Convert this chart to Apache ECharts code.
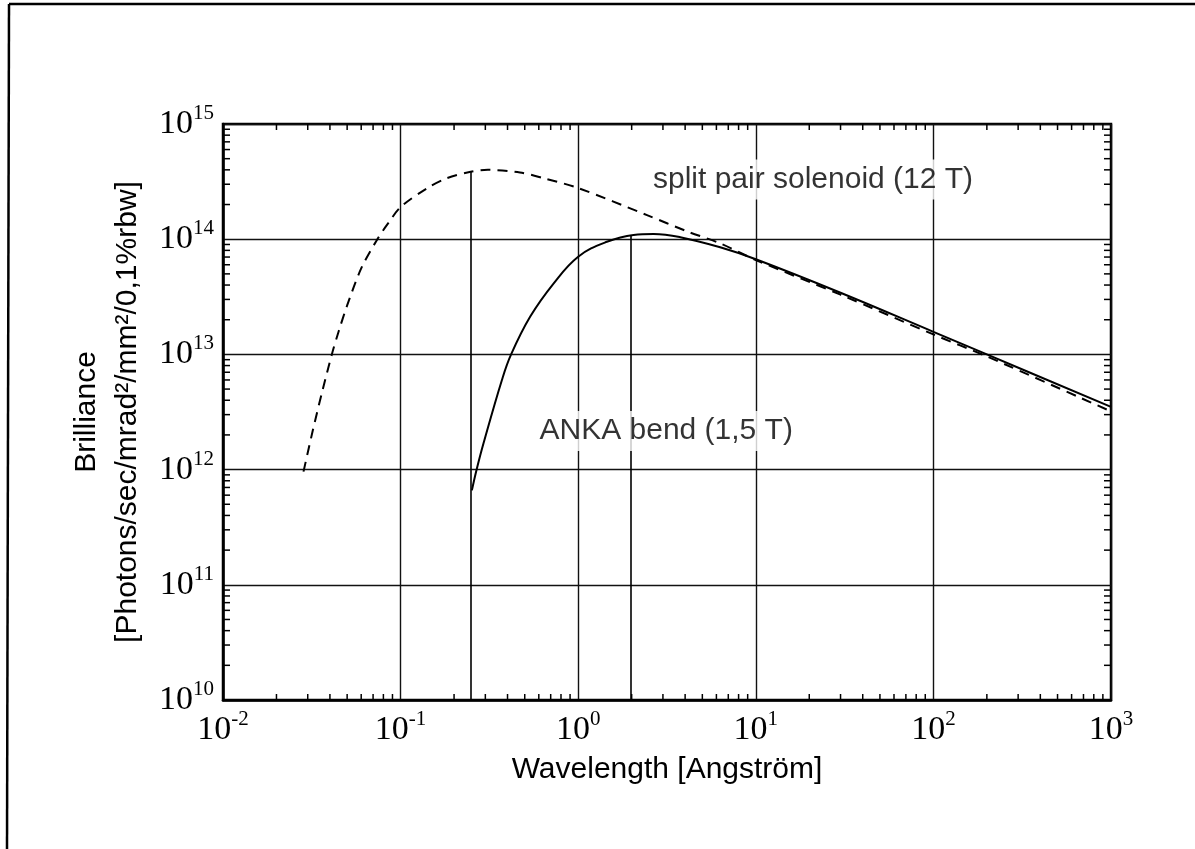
<!DOCTYPE html>
<html>
<head>
<meta charset="utf-8">
<script src="https://cdn.jsdelivr.net/npm/echarts@6/dist/echarts.min.js"></script>
<style>
html,body{margin:0;padding:0;background:#fff}
#chart{width:1195px;height:849px}
</style>
</head>
<body>
<div id="chart"></div>
<script>
// wavelength [Angstrom] and brilliance
const solenoidX = [0.0284, 0.032, 0.036, 0.041, 0.045, 0.05, 0.06, 0.074, 0.085, 0.1, 0.141, 0.182, 0.248, 0.31, 0.47, 0.64, 1.0, 2.44, 4.1, 6.3, 10, 30, 100, 200, 1000]
const solenoidY = [9.6e11, 2.17e12, 4.6e12, 1.0e13, 1.62e13, 2.66e13, 5.58e13, 1.0e14, 1.37e14, 1.9e14, 2.77e14, 3.38e14, 3.85e14, 4.0e14, 3.8e14, 3.38e14, 2.78e14, 1.62e14, 1.17e14, 9.2e13, 6.6e13, 3.3e13, 1.49e13, 9.6e12, 3.2e12]
const bendX = [0.252, 0.268, 0.293, 0.372, 0.419, 0.537, 0.728, 1.0, 1.45, 2.05, 2.66, 3.76, 6.3, 10, 30, 100, 200, 1000]
const bendY = [6.6e11, 1.0e12, 1.69e12, 6.0e12, 1.0e13, 2.13e13, 4.14e13, 7.05e13, 9.5e13, 1.09e14, 1.11e14, 1.04e14, 8.5e13, 6.7e13, 3.43e13, 1.57e13, 1.0e13, 3.5e12]
// critical wavelengths (vertical lines up to the curves)
const criticalX = [0.248, 1.98]
const criticalY = [3.85e14, 1.07e14]
// curve labels
const noteText = ['split pair solenoid (12 T)', 'ANKA bend (1,5 T)']
const noteX = [21, 3.13]
const noteY = [3.3e14, 2.16e12]
// decade tick labels (exponents)
const xExp = [-2, -1, 0, 1, 2, 3]
const yExp = [10, 11, 12, 13, 14, 15]
const minorMult = [2, 3, 4, 5, 6, 7, 8, 9]

const X0 = Math.pow(10, xExp[0]), X1 = Math.pow(10, xExp[xExp.length - 1])
const Y0 = Math.pow(10, yExp[0]), Y1 = Math.pow(10, yExp[yExp.length - 1])

const xMinor = []
xExp.slice(0, -1).forEach(e => minorMult.forEach(m => xMinor.push([m * Math.pow(10, e), Y0])))
const yMinor = []
yExp.slice(0, -1).forEach(e => minorMult.forEach(m => yMinor.push([X0, m * Math.pow(10, e)])))

const serif = 'Liberation Serif'
const sans = 'Liberation Sans'

const rich = {
  b: {fontFamily: serif, fontSize: 34, color: '#000', lineHeight: 42, verticalAlign: 'middle'},
  s: {fontFamily: serif, fontSize: 21, color: '#000', lineHeight: 42, verticalAlign: 'top'}
}
function powLabel(v) {
  const e = Math.round(Math.log10(v))
  return '{b|10}{s|' + e + '}'
}

const tickStyle = {stroke: '#000', lineWidth: 1.5}

const options = {
  backgroundColor: '#fff',
  animation: false,
  grid: {left: 223, right: 84, top: 124, bottom: 149, show: true, borderColor: '#000', borderWidth: 2.5},
  xAxis: {
    type: 'log', logBase: 10, min: X0, max: X1,
    name: 'Wavelength [Angström]', nameLocation: 'middle', nameGap: 55,
    nameTextStyle: {fontFamily: sans, fontSize: 30, color: '#000'},
    axisLine: {lineStyle: {color: '#000', width: 2.5}},
    axisTick: {show: false},
    axisLabel: {formatter: powLabel, rich: rich, margin: 9},
    splitLine: {show: true, lineStyle: {color: '#111', width: 1.4}}
  },
  yAxis: {
    type: 'log', logBase: 10, min: Y0, max: Y1,
    name: 'Brilliance\n[Photons/sec/mrad²/mm²/0,1%rbw]', nameLocation: 'middle', nameGap: 73,
    nameTextStyle: {fontFamily: sans, fontSize: 30, color: '#000', lineHeight: 41},
    axisLine: {lineStyle: {color: '#000', width: 2.5}},
    axisTick: {show: false},
    axisLabel: {formatter: powLabel, rich: rich, margin: 9},
    splitLine: {show: true, lineStyle: {color: '#111', width: 1.4}}
  },
  graphic: [
    {type: 'line', shape: {x1: 9, y1: 4, x2: 7, y2: 849}, style: {stroke: '#000', lineWidth: 2.5}},
    {type: 'line', shape: {x1: 9, y1: 4, x2: 1195, y2: 4}, style: {stroke: '#000', lineWidth: 2.5}}
  ],
  series: [
    {
      name: '12 T', type: 'line', smooth: 0.3, symbol: 'none', z: 3,
      lineStyle: {color: '#000', width: 2, type: [10, 7]},
      data: solenoidX.map((x, i) => [x, solenoidY[i]])
    },
    {
      name: '1.5 T', type: 'line', smooth: 0.4, symbol: 'none', z: 3,
      lineStyle: {color: '#000', width: 2},
      data: bendX.map((x, i) => [x, bendY[i]])
    },
    {
      name: 'critical', type: 'line', data: [], z: 2,
      markLine: {
        silent: true, symbol: 'none', label: {show: false},
        lineStyle: {color: '#000', width: 1.6, type: 'solid'},
        data: criticalX.map((x, i) => [{coord: [x, Y0]}, {coord: [x, criticalY[i]]}])
      }
    },
    {
      name: 'xminor', type: 'custom', clip: false, silent: true, z: 4,
      renderItem: (params, api) => {
        const b = api.coord([api.value(0), Y0])
        const t = api.coord([api.value(0), Y1])
        return {type: 'group', children: [
          {type: 'line', shape: {x1: b[0], y1: b[1], x2: b[0], y2: b[1] - 6}, style: tickStyle},
          {type: 'line', shape: {x1: t[0], y1: t[1], x2: t[0], y2: t[1] + 6}, style: tickStyle}
        ]}
      },
      data: xMinor
    },
    {
      name: 'yminor', type: 'custom', clip: false, silent: true, z: 4,
      renderItem: (params, api) => {
        const l = api.coord([X0, api.value(1)])
        const r = api.coord([X1, api.value(1)])
        return {type: 'group', children: [
          {type: 'line', shape: {x1: l[0], y1: l[1], x2: l[0] + 7, y2: l[1]}, style: tickStyle},
          {type: 'line', shape: {x1: r[0], y1: r[1], x2: r[0] - 7, y2: r[1]}, style: tickStyle}
        ]}
      },
      data: yMinor
    },
    {
      name: 'notes', type: 'scatter', symbolSize: 1, z: 6, silent: true,
      itemStyle: {color: 'rgba(0,0,0,0)'},
      label: {
        show: true, position: 'inside', formatter: p => noteText[p.dataIndex],
        fontFamily: sans, fontSize: 30, color: '#000', textBorderWidth: 0,
        backgroundColor: '#fff', padding: [4, 3, 6, 3]
      },
      data: noteX.map((x, i) => [x, noteY[i]])
    }
  ]
}

const chart = echarts.init(document.getElementById('chart'))
chart.setOption(options)
</script>
</body>
</html>
